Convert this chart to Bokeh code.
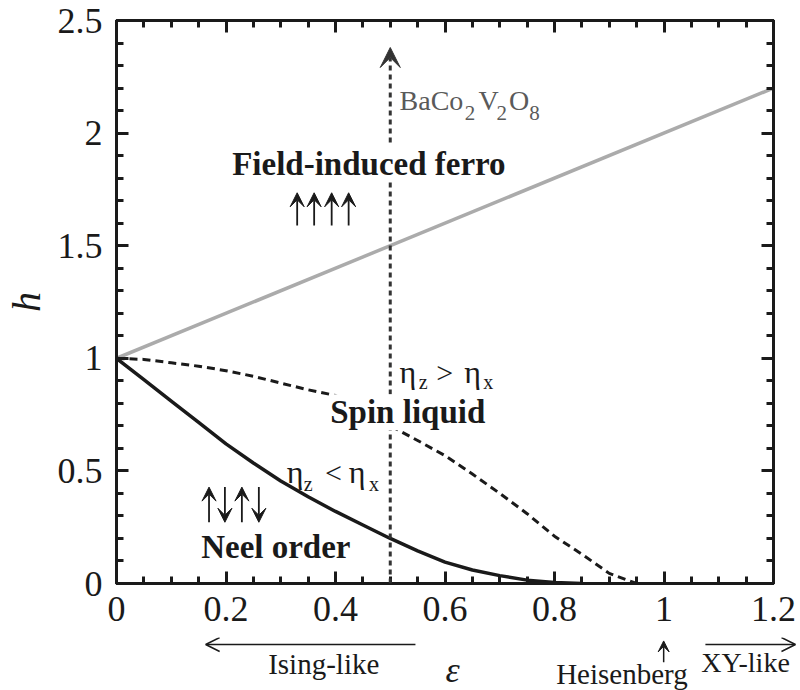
from bokeh.plotting import figure
from bokeh.models import Range1d, LinearAxis, FixedTicker, Label, Arrow, VeeHead, OpenHead
from bokeh.embed import file_html
from bokeh.resources import INLINE

# ---------------- data ----------------
eps_ferro = [0.0, 1.2]
h_ferro = [1.0, 2.2]

eps_neel = [0.0, 0.05, 0.1, 0.15, 0.2, 0.25, 0.3, 0.35, 0.4, 0.45, 0.5, 0.55, 0.6, 0.65, 0.7, 0.75, 0.8, 0.85]
h_neel = [1.0, 0.905, 0.81, 0.715, 0.62, 0.535, 0.455, 0.385, 0.32, 0.26, 0.20, 0.145, 0.095, 0.06, 0.035, 0.015, 0.005, 0.0]

eps_sl = [0.0, 0.05, 0.1, 0.15, 0.2, 0.25, 0.3, 0.35, 0.4, 0.45, 0.5, 0.55, 0.6, 0.65, 0.7, 0.75, 0.8, 0.85, 0.9, 0.95]
h_sl = [1.0, 0.995, 0.98, 0.965, 0.945, 0.92, 0.89, 0.86, 0.835, 0.77, 0.70, 0.635, 0.568, 0.486, 0.40, 0.31, 0.21, 0.13, 0.045, 0.0]

eps_compound = 0.5
h_compound_top = 2.38

x_major = [0, 0.2, 0.4, 0.6, 0.8, 1, 1.2]
x_tick_labels = ["0", "0.2", "0.4", "0.6", "0.8", "1", "1.2"]
x_minor = [0, 0.05, 0.1, 0.15, 0.2, 0.25, 0.3, 0.35, 0.4, 0.45, 0.5, 0.55, 0.6,
           0.65, 0.7, 0.75, 0.8, 0.85, 0.9, 0.95, 1.0, 1.05, 1.1, 1.15, 1.2]
y_major = [0, 0.5, 1, 1.5, 2, 2.5]
y_tick_labels = ["0", "0.5", "1", "1.5", "2", "2.5"]
y_minor = [0, 0.1, 0.2, 0.3, 0.4, 0.5, 0.6, 0.7, 0.8, 0.9, 1.0, 1.1, 1.2, 1.3,
           1.4, 1.5, 1.6, 1.7, 1.8, 1.9, 2.0, 2.1, 2.2, 2.3, 2.4, 2.5]

ferro_spin_eps = [0.330, 0.361, 0.393, 0.424]
ferro_spin_h = (1.59, 1.735)
neel_spin_eps = [0.169, 0.198, 0.229, 0.260]
neel_spin_dir = ["up", "down", "up", "down"]
neel_spin_h = (0.272, 0.428)

X_START, X_END = 0.0, 1.2
Y_START, Y_END = 0.0, 2.5

# ---------------- layout constants ----------------
W, H_TOTAL = 800, 690
B_LEFT, B_RIGHT, B_TOP = 114, 27, 20
FRAME_BOTTOM = 583
P_H = 637                      # main figure height (frame + tick labels)
FONT = "Liberation Serif"
INK = "#1a1a1a"

p = figure(width=W, height=P_H, output_backend="svg", toolbar_location=None,
           x_range=Range1d(X_START, X_END), y_range=Range1d(Y_START, Y_END),
           min_border_left=B_LEFT, min_border_right=B_RIGHT, min_border_top=B_TOP,
           min_border_bottom=P_H - FRAME_BOTTOM, y_axis_label="h")
p.background_fill_color = "white"
p.border_fill_color = "white"
p.grid.visible = False
p.outline_line_color = INK
p.outline_line_width = 3

def style_axis(ax, ticks, minor, labels, show_labels=True):
    ax.ticker = FixedTicker(ticks=ticks, minor_ticks=minor)
    ax.axis_line_color = INK
    ax.axis_line_width = 3
    ax.major_tick_line_color = INK
    ax.major_tick_line_width = 3
    ax.minor_tick_line_color = INK
    ax.minor_tick_line_width = 3
    ax.major_tick_in = 12
    ax.major_tick_out = 0
    ax.minor_tick_in = 7
    ax.minor_tick_out = 0
    if show_labels:
        ax.major_label_overrides = {t: s for t, s in zip(ticks, labels)}
        ax.major_label_text_font = FONT
        ax.major_label_text_font_size = "36px"
        ax.major_label_text_color = INK
    else:
        ax.major_label_text_font_size = "0px"
        ax.major_label_text_alpha = 0
        ax.major_label_standoff = 0

style_axis(p.xaxis[0], x_major, x_minor, x_tick_labels)
style_axis(p.yaxis[0], y_major, y_minor, y_tick_labels)
p.xaxis[0].major_label_standoff = 13
p.yaxis[0].major_label_standoff = 14
p.yaxis[0].axis_label_text_font = FONT
p.yaxis[0].axis_label_text_font_style = "italic"
p.yaxis[0].axis_label_text_font_size = "40px"
p.yaxis[0].axis_label_text_color = INK
p.yaxis[0].axis_label_standoff = 6

top = LinearAxis()
right = LinearAxis()
style_axis(top, x_major, x_minor, x_tick_labels, show_labels=False)
style_axis(right, y_major, y_minor, y_tick_labels, show_labels=False)
p.add_layout(top, "above")
p.add_layout(right, "right")

# ---------------- curves ----------------
p.line(eps_ferro, h_ferro, line_color="#ababab", line_width=3.5)
p.line(eps_sl, h_sl, line_color=INK, line_width=3, line_dash="8 5")
p.line(eps_neel, h_neel, line_color=INK, line_width=3.5)

# vertical dotted arrow at the compound's epsilon
p.add_layout(Arrow(x_start=eps_compound, y_start=0, x_end=eps_compound, y_end=h_compound_top,
                   line_color="#333333", line_width=3, line_dash="5 4",
                   end=VeeHead(size=20, fill_color="#333333", line_color="#333333", line_width=1)))

# spin arrows
for e in ferro_spin_eps:
    p.add_layout(Arrow(x_start=e, y_start=ferro_spin_h[0], x_end=e, y_end=ferro_spin_h[1],
                       line_color=INK, line_width=1.8,
                       end=VeeHead(size=14, fill_color=INK, line_color=INK, line_width=1)))
for e, d in zip(neel_spin_eps, neel_spin_dir):
    y0, y1 = neel_spin_h if d == "up" else neel_spin_h[::-1]
    p.add_layout(Arrow(x_start=e, y_start=y0, x_end=e, y_end=y1,
                       line_color=INK, line_width=1.8,
                       end=VeeHead(size=14, fill_color=INK, line_color=INK, line_width=1)))

def lab(fig, x, y, text, size, style="normal", align="center", baseline="middle", color=INK, bg=None):
    l = Label(x=x, y=y, text=text, text_font=FONT, text_font_size=f"{size}px",
              text_font_style=style, text_align=align, text_baseline=baseline, text_color=color)
    if bg is not None:
        l.background_fill_color = bg
    fig.add_layout(l)

# region labels
lab(p, 0.461, 1.865, "Field-induced ferro", 33, style="bold", bg="white")
lab(p, 0.532, 0.76, "Spin liquid", 33, style="bold", bg="white")
lab(p, 0.291, 0.16, "Neel order", 33, style="bold")

# BaCo2V2O8
GRAY = "#5a5a5a"
lab(p, 0.517, 2.145, "BaCo", 28, align="left", baseline="alphabetic", color=GRAY)
lab(p, 0.636, 2.091, "2", 21, align="left", baseline="alphabetic", color=GRAY)
lab(p, 0.661, 2.145, "V", 28, align="left", baseline="alphabetic", color=GRAY)
lab(p, 0.694, 2.091, "2", 21, align="left", baseline="alphabetic", color=GRAY)
lab(p, 0.717, 2.145, "O", 28, align="left", baseline="alphabetic", color=GRAY)
lab(p, 0.754, 2.091, "8", 21, align="left", baseline="alphabetic", color=GRAY)

# eta_z > eta_x
lab(p, 0.517, 0.937, "η", 32, align="left", baseline="alphabetic")
lab(p, 0.552, 0.893, "z", 20, align="left", baseline="alphabetic")
lab(p, 0.584, 0.937, ">", 30, align="left", baseline="alphabetic")
lab(p, 0.635, 0.937, "η", 32, align="left", baseline="alphabetic")
lab(p, 0.670, 0.893, "x", 20, align="left", baseline="alphabetic")

# eta_z < eta_x
lab(p, 0.311, 0.493, "η", 32, align="left", baseline="alphabetic")
lab(p, 0.342, 0.444, "z", 20, align="left", baseline="alphabetic")
lab(p, 0.381, 0.493, "<", 30, align="left", baseline="alphabetic")
lab(p, 0.424, 0.493, "η", 32, align="left", baseline="alphabetic")
lab(p, 0.461, 0.444, "x", 20, align="left", baseline="alphabetic")

# ---------------- strip below the axis (same x and h scales, full-width frame) ----------------
ppx = (W - B_LEFT - B_RIGHT) / (X_END - X_START)
ppy = (FRAME_BOTTOM - B_TOP) / (Y_END - Y_START)
H2 = H_TOTAL - P_H
q = figure(width=W, height=H2, output_backend="svg", toolbar_location=None,
           x_range=Range1d(X_START - B_LEFT / ppx, X_START + (W - B_LEFT) / ppx),
           y_range=Range1d(-(H_TOTAL - FRAME_BOTTOM) / ppy, -(P_H - FRAME_BOTTOM) / ppy),
           min_border=0, min_border_left=0, min_border_right=0, min_border_top=0, min_border_bottom=0,
           x_axis_location=None, y_axis_location=None)
q.grid.visible = False
q.outline_line_color = None
q.background_fill_color = "white"
q.border_fill_color = "white"

lab(q, 0.6155, -0.382, "ε", 36, style="italic", baseline="alphabetic")
q.add_layout(Arrow(x_start=0.548, y_start=-0.271, x_end=0.166, y_end=-0.271,
                   line_color=INK, line_width=1.5,
                   end=OpenHead(size=14, line_color=INK, line_width=1.5)))
lab(q, 0.381, -0.3575, "Ising-like", 29)
q.add_layout(Arrow(x_start=1.0, y_start=-0.35, x_end=1.0, y_end=-0.255,
                   line_color=INK, line_width=1.5,
                   end=VeeHead(size=11, fill_color=INK, line_color=INK, line_width=1)))
lab(q, 0.924, -0.40, "Heisenberg", 29)
q.add_layout(Arrow(x_start=1.076, y_start=-0.271, x_end=1.24, y_end=-0.271,
                   line_color=INK, line_width=1.5,
                   end=OpenHead(size=14, line_color=INK, line_width=1.5)))
lab(q, 1.149, -0.351, "XY-like", 28)

open("out.html", "w").write(file_html([p, q], INLINE))
